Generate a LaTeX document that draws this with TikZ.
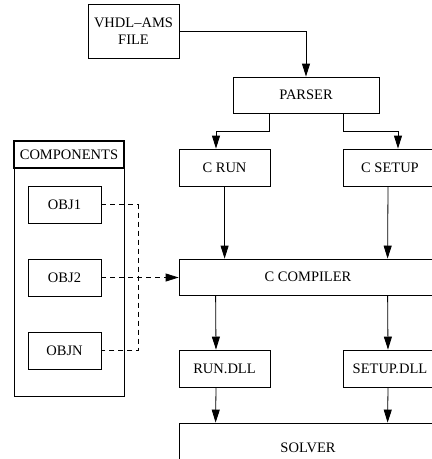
\documentclass[tikz,border=0pt]{standalone}
\usepackage{fontspec}
\setmainfont{Liberation Serif}
\usetikzlibrary{arrows.meta}
\tikzstyle{block}=[draw,line width=0.8pt,inner sep=0pt,align=center,font=\fontsize{14.5}{17}\selectfont]
\tikzstyle{edge}=[draw,line width=0.8pt,-{Triangle[length=13pt,width=8pt]}]
\tikzstyle{link}=[draw,line width=0.8pt,dash pattern=on 5pt off 4pt]

\begin{document}
\begin{tikzpicture}[x=1pt,y=-1pt]
	\useasboundingbox (0,0) rectangle (432,459);
	\clip (0,0) rectangle (432,459);

	% First the flow boxes
	\foreach \pos/\w/\h/\name/\txt in {{(133.5,31)/91/54/file/{VHDL--AMS\\FILE}},
			{(306,95)/146/36/parser/PARSER}, {(224.5,167.5)/91/37/crun/C RUN},
			{(390,167.5)/94/37/csetup/C SETUP}, {(308,277)/258/36/compiler/C COMPILER},
			{(224.5,368.5)/91/37/rundll/RUN.DLL}, {(390,368.5)/94/37/setupdll/SETUP.DLL},
			{(308,448)/258/50/solver/SOLVER}}
	\node[block,minimum width=\w pt,minimum height=\h pt] (\name) at \pos {\txt};

	% The component library on the left
	\node[block,minimum width=110pt,minimum height=255pt] (complist) at (69,268.5) {};
	\node[block,line width=1.4pt,minimum width=110pt,minimum height=27pt] (comphead) at (69,154.5) {COMPONENTS};
	\foreach \y/\name/\txt in {204.5/obj1/OBJ1, 277.5/obj2/OBJ2, 350.5/objn/OBJN}
	\node[block,minimum width=73pt,minimum height=37pt] (\name) at (64.5,\y) {\txt};

	% Connect the boxes
	\path[edge] (file) -| (parser);
	\path[edge] ([xshift=37pt]parser.south west) -- ++(0,18) -| ([xshift=-8.5pt]crun.north);
	\path[edge] ([xshift=-36pt]parser.south east) -- ++(0,18) -| ([xshift=8pt]csetup.north);
	\path[edge] (crun) -- ([xshift=46pt]compiler.north west);
	\path[edge] ([xshift=-2pt]csetup.south) -- ([xshift=209pt]compiler.north west);
	\path[edge] ([xshift=37pt]compiler.south west) -- ([xshift=-8.5pt]rundll.north);
	\path[edge] ([xshift=209pt]compiler.south west) -- ([xshift=-2pt]setupdll.north);
	\path[edge] ([xshift=-8.5pt]rundll.south) -- ([xshift=37pt]solver.north west);
	\path[edge] ([xshift=-2pt]setupdll.south) -- ([xshift=209pt]solver.north west);

	% Dashed links from the objects
	\path[link] (obj1.east) -- ++(37,0) |- (objn.east);
	\path[link,edge] (obj2.east) -- (obj2.east -| compiler.west);
\end{tikzpicture}
\end{document}
